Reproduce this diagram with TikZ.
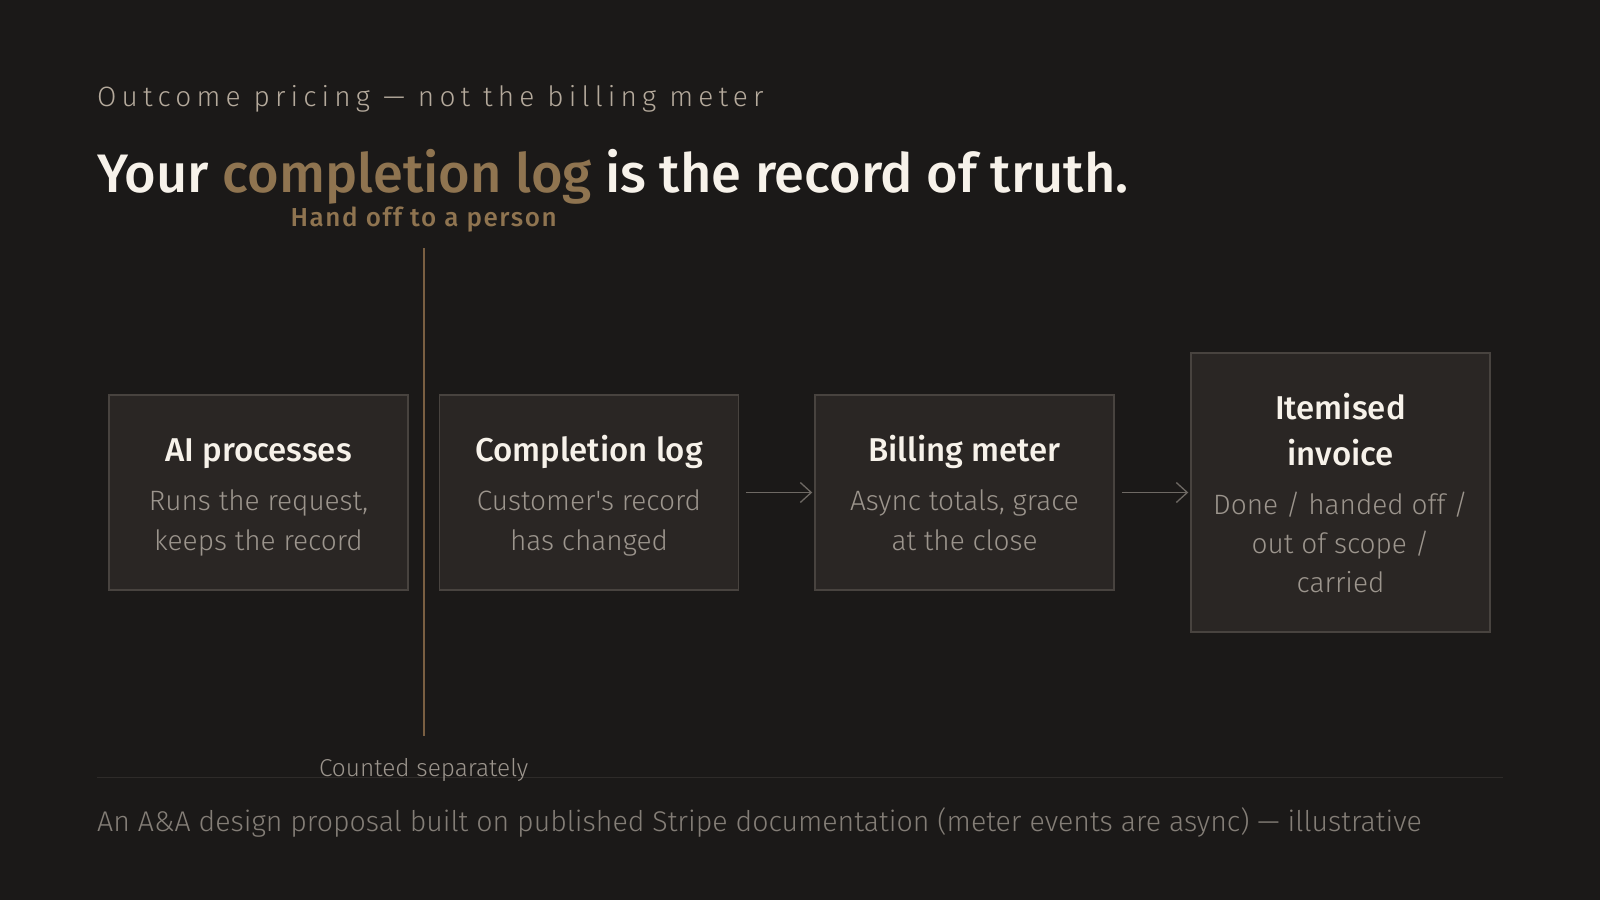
\documentclass[tikz,border=0pt]{standalone}
\usepackage{fontspec}
\setmainfont{Fira Sans Light}
\newfontfamily\lightfont{Fira Sans Light}
\newfontfamily\medfont{Fira Sans Medium}
\newfontfamily\trackfont{Fira Sans Light}[LetterSpace=18.5]
\newfontfamily\handfont{Fira Sans Medium}[LetterSpace=6]
\usetikzlibrary{positioning,arrows.meta}

\definecolor{bgcol}{HTML}{1B1918}
\definecolor{boxfill}{HTML}{2A2624}
\definecolor{boxline}{HTML}{48433F}
\definecolor{titlecol}{HTML}{F7F2EA}
\definecolor{goldcol}{HTML}{8F7450}
\definecolor{subcol}{HTML}{B5AA9C}
\definecolor{bodycol}{HTML}{9C958D}
\definecolor{footcol}{HTML}{847E77}
\definecolor{handcol}{HTML}{7A5F42}
\definecolor{arrowcol}{HTML}{6E6964}
\definecolor{rulecol}{HTML}{2E2B29}

\tikzset{
  box/.style={draw=boxline, fill=boxfill, line width=1.5pt, minimum width=299pt, minimum height=195pt, inner sep=0pt},
  tallbox/.style={box, minimum height=279pt},
  head/.style={text=titlecol, font=\medfont\fontsize{33}{38}\selectfont, anchor=base, inner sep=0pt},
  body/.style={text=bodycol, font=\lightfont\fontsize{28}{32}\selectfont, anchor=base, inner sep=0pt},
  flow/.style={draw=arrowcol, line width=1.3pt, shorten <=7pt, shorten >=2pt, -{Straight Barb[length=11pt,width=20pt]}},
}

\begin{document}
\begin{tikzpicture}[x=1pt,y=-1pt]
%
\fill[bgcol] (0,0) rectangle (1600,900);
%
\node[anchor=base west, inner sep=0pt, text=subcol, font=\trackfont\fontsize{28}{30}\selectfont] (kicker) at (97,106) {Outcome pricing — not the billing meter};
\node[anchor=base west, inner sep=0pt, text=titlecol, font=\medfont\fontsize{54.2}{62}\selectfont] (title) at (97,192) {Your \textcolor{goldcol}{completion log} is the record of truth.};
%
\node[anchor=base, inner sep=0pt, text=goldcol, font=\handfont\fontsize{26}{30}\selectfont] (hand) at (423.7,226) {Hand off to a person};
\coordinate (handtop) at (423.7,248);
\coordinate (handbot) at (423.7,736);
\draw[handcol, line width=2pt] (handtop) -- (handbot);
%
\node[box] (ai) at (258.5,492.5) {};
\node[box] (log) at (589,492.5) {};
\node[box] (meter) at (964.5,492.5) {};
\node[tallbox] (invoice) at (1340.5,492.5) {};
%
\node[head] at ([yshift=31.5pt]ai.center) {AI processes};
\node[body] at ([yshift=-17.5pt]ai.center) {Runs the request,};
\node[body] at ([yshift=-57.5pt]ai.center) {keeps the record};
%
\node[head] at ([yshift=31.5pt]log.center) {Completion log};
\node[body] at ([yshift=-17.5pt]log.center) {Customer's record};
\node[body] at ([yshift=-57.5pt]log.center) {has changed};
%
\node[head] at ([yshift=31.5pt]meter.center) {Billing meter};
\node[body] at ([yshift=-17.5pt]meter.center) {Async totals, grace};
\node[body] at ([yshift=-57.5pt]meter.center) {at the close};
%
\node[head] at ([yshift=73.5pt]invoice.center) {Itemised};
\node[head] at ([yshift=27.5pt]invoice.center) {invoice};
\node[body] at ([yshift=-21.5pt]invoice.center) {Done / handed off /};
\node[body] at ([yshift=-60.5pt]invoice.center) {out of scope /};
\node[body] at ([yshift=-99.5pt]invoice.center) {carried};
%
\draw[flow] (log) -- (meter);
\draw[flow] (meter) -- (invoice);
%
\coordinate (rulel) at (97,777.5);
\coordinate (ruler) at (1503,777.5);
\draw[rulecol, line width=1pt] (rulel) -- (ruler);
\node[anchor=base, inner sep=0pt, text=bodycol, font=\lightfont\fontsize{24.4}{28}\selectfont] (counted) at (423.7,776) {Counted separately};
%
\node[anchor=base west, inner sep=0pt, text=footcol, font=\lightfont\fontsize{28.5}{32}\selectfont] (foot) at (97,831) {An A\&A design proposal built on published Stripe documentation (meter events are async) — illustrative};
\end{tikzpicture}
\end{document}
